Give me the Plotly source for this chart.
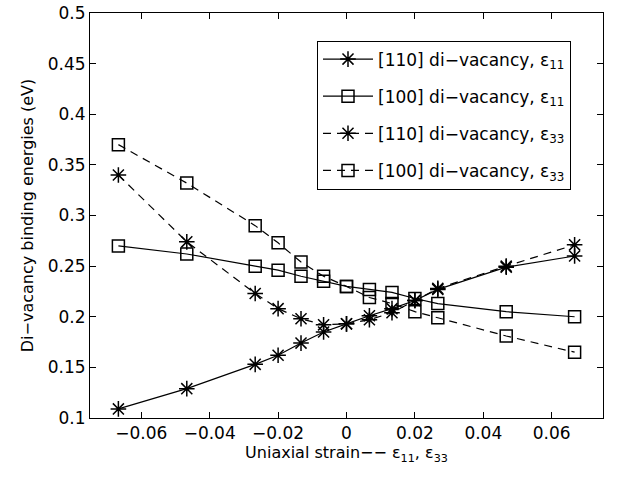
import plotly.graph_objects as go

strain = [-0.0667, -0.0467, -0.0267, -0.02, -0.0133, -0.0067, 0, 0.0067, 0.0133, 0.02, 0.0267, 0.0467, 0.0667]
e110_11 = [0.109, 0.129, 0.153, 0.162, 0.174, 0.185, 0.193, 0.201, 0.208, 0.216, 0.227, 0.249, 0.260]
e100_11 = [0.270, 0.262, 0.250, 0.246, 0.240, 0.235, 0.230, 0.227, 0.224, 0.218, 0.213, 0.205, 0.200]
e110_33 = [0.340, 0.274, 0.223, 0.208, 0.198, 0.192, 0.193, 0.197, 0.204, 0.216, 0.228, 0.250, 0.271]
e100_33 = [0.370, 0.332, 0.290, 0.273, 0.254, 0.240, 0.230, 0.219, 0.213, 0.205, 0.199, 0.181, 0.165]

names = ["[110] di\u2212vacancy, \u03b5<sub>11</sub>",
         "[100] di\u2212vacancy, \u03b5<sub>11</sub>",
         "[110] di\u2212vacancy, \u03b5<sub>33</sub>",
         "[100] di\u2212vacancy, \u03b5<sub>33</sub>"]

x_ticks = [-0.06, -0.04, -0.02, 0, 0.02, 0.04, 0.06]
x_ticklabels = ["\u22120.06", "\u22120.04", "\u22120.02", "0", "0.02", "0.04", "0.06"]
y_ticks = [0.1, 0.15, 0.2, 0.25, 0.3, 0.35, 0.4, 0.45, 0.5]
y_ticklabels = ["0.1", "0.15", "0.2", "0.25", "0.3", "0.35", "0.4", "0.45", "0.5"]

series = [e110_11, e100_11, e110_33, e100_33]
symbols = ["asterisk-open", "square-open", "asterisk-open", "square-open"]
dashes = ["solid", "solid", "8px,6px", "8px,6px"]

fig = go.Figure()
for i, (ys, nm, sym, d) in enumerate(zip(series, names, symbols, dashes)):
    fig.add_trace(go.Scatter(
        x=strain, y=ys, name=nm, mode="lines+markers",
        legendgroup=f"g{i}",
        line=dict(color="black", width=1.2, dash=d),
        marker=dict(symbol=sym, size=13 if "asterisk" in sym else 12,
                    color="black",
                    line=dict(color="black", width=1.5)),
    ))

font = "DejaVu Sans"
fig.update_layout(
    width=622, height=481,
    margin=dict(l=90, r=19, t=13, b=63, autoexpand=False),
    paper_bgcolor="white", plot_bgcolor="white",
    font=dict(family=font, size=17, color="black"),
    showlegend=True,
    legend=dict(x=0.4425, y=0.932, xanchor="left", yanchor="top",
                bgcolor="white", bordercolor="black", borderwidth=1,
                font=dict(size=17), tracegroupgap=12, itemwidth=50),
    xaxis=dict(range=[-0.075, 0.075], tickvals=x_ticks, ticktext=x_ticklabels,
               showline=True, linecolor="black", linewidth=1, mirror="ticks",
               ticks="inside", ticklen=6, tickcolor="black", showgrid=False,
               zeroline=False, tickfont=dict(size=17), automargin=False,
               title=dict(text="Uniaxial strain\u2212\u2212 \u03b5<sub>11</sub>, \u03b5<sub>33</sub>",
                          standoff=2, font=dict(size=16))),
    yaxis=dict(range=[0.1, 0.5], tickvals=y_ticks, ticktext=y_ticklabels,
               showline=True, linecolor="black", linewidth=1, mirror="ticks",
               ticks="inside", ticklen=6, tickcolor="black", showgrid=False,
               zeroline=False, tickfont=dict(size=17), automargin=False,
               title=dict(text="Di\u2212vacancy binding energies (eV)",
                          standoff=10, font=dict(size=16))),
)

fig.write_html("out.html")
